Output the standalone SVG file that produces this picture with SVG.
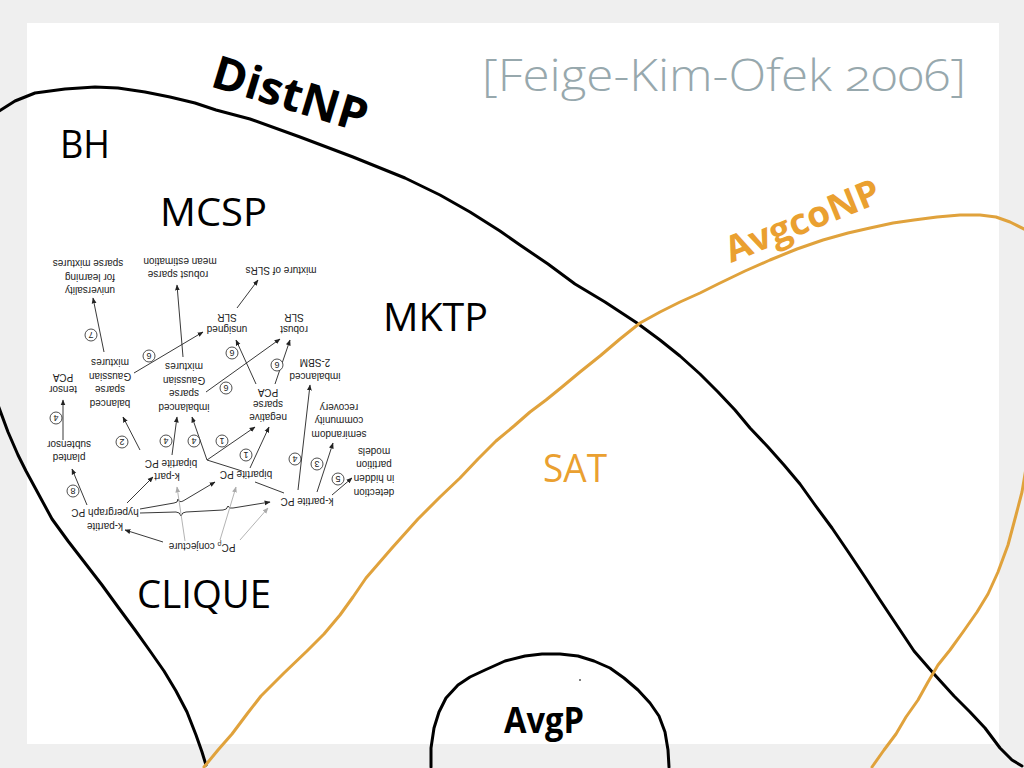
<svg xmlns="http://www.w3.org/2000/svg" width="1024" height="768" viewBox="0 0 1024 768">
<style>
.bg{fill:#efefef}
.panel{fill:#ffffff}
.blk{fill:none;stroke:#000;stroke-width:3;stroke-linecap:round;stroke-linejoin:round}
.org{fill:none;stroke:#e0a23c;stroke-width:3;stroke-linecap:round;stroke-linejoin:round}
.big{font-family:"Open Sans","Liberation Sans",sans-serif;font-size:39px;fill:#000}
.bold{font-family:"Open Sans","Liberation Sans",sans-serif;font-weight:700;fill:#000}
.otxt{fill:#eaa030}
.cite{font-family:"Open Sans","Liberation Sans",sans-serif;font-weight:300;font-size:44px;fill:#97a8ad;font-variant-numeric:oldstyle-nums}
.s{font-family:"Liberation Sans",Arial,sans-serif;font-size:10px;fill:#222;text-anchor:middle;dominant-baseline:central}
.n{font-family:"Liberation Sans",Arial,sans-serif;font-size:9px;fill:#222;text-anchor:middle;dominant-baseline:central}
.c{fill:#fff;stroke:#222;stroke-width:0.8}
.e{fill:none;stroke:#222;stroke-width:0.9;marker-end:url(#ah)}
.l{fill:none;stroke:#222;stroke-width:0.9}
.g{fill:none;stroke:#aaa;stroke-width:0.9;marker-end:url(#ag)}
</style>
<defs>
<marker id="ah" viewBox="0 0 10 10" refX="9" refY="5" markerWidth="6" markerHeight="6" orient="auto" markerUnits="userSpaceOnUse"><path d="M0,1 L10,5 L0,9 z" fill="#222"/></marker>
<marker id="ag" viewBox="0 0 10 10" refX="9" refY="5" markerWidth="6" markerHeight="6" orient="auto" markerUnits="userSpaceOnUse"><path d="M0,1 L10,5 L0,9 z" fill="#aaa"/></marker>
</defs>
<rect class="bg" x="0" y="0" width="1024" height="768"/>
<rect class="panel" x="27" y="23" width="972" height="721"/>

<g id="citation"><text class="cite" x="482" y="91" textLength="484" lengthAdjust="spacingAndGlyphs">[Feige-Kim-Ofek 2006]</text></g>

<g id="curves">
<path id="distnp-boundary" class="blk" d="M-4,113 L15,101 L35,93 L65,89 L95,87 L118,88 L145,92 L170,97 L195,103 L216,110 L250,119 L300,137 L353,157 L405,178 L440,195 L470,212 L500,231 L520,245 L548,264 L575,284 L605,302 L637,323 L660,340 L680,356 L700,374 L718,392 L735,410 L750,428 L768,447 L784,465 L800,484 L815,505 L832,528 L849,553 L865,577 L880,600 L898,627 L914,651 L934,674 L954,696 L970,712 L985,728 L1000,748 L1012,760 L1022,766"/>
<path id="distnp-left" class="blk" d="M-2,405 L8,432 L18,455 L26,471 L39,495 L52,519 L68,541 L85,563 L102,585 L118,607 L135,630 L150,651 L164,671 L176,691 L187,712 L196,735 L202,752 L206,765"/>
<path id="avgconp" class="org" d="M204,767 L218,750 L232,734 L247,714 L261,696 L284,673 L307,651 L324,634 L340,615 L353,597 L366,578 L392,548 L418,519 L440,497 L460,478 L478,459 L496,441 L514,426 L530,412 L546,400 L562,387 L580,372 L600,356 L620,339 L640,323 L660,312 L680,302 L700,293 L718,284 L745,271 L770,260 L797,249 L823,240 L848,233 L870,228 L893,223 L914,220 L937,217 L960,215 L980,215 L996,217 L1010,222 L1026,230"/>
<path id="avgconp-right" class="org" d="M1026,468 L1022,492 L1016,515 L1008,545 L998,572 L988,594 L977,612 L963,632 L950,650 L938,665 L928,682 L918,700 L906,717 L896,734 L884,750 L872,767"/>
<path id="avgp" class="blk" d="M431,767 L431,748 L434,728 L439,712 L446,698 L458,685 L470,677 L485,670 L505,661 L525,656 L542,654 L560,654 L578,656 L594,661 L610,668 L624,678 L638,690 L650,703 L659,716 L665,732 L668,750 L669,767"/>
<circle cx="580" cy="680" r="1" fill="#555"/>
</g>

<g id="labels">
<text class="bold" font-size="46" transform="translate(209,86) rotate(17)" textLength="160" lengthAdjust="spacingAndGlyphs">DistNP</text>
<text class="big" x="60" y="158" textLength="50" lengthAdjust="spacingAndGlyphs">BH</text>
<text class="big" x="160" y="226" textLength="107" lengthAdjust="spacingAndGlyphs">MCSP</text>
<text class="big" x="383" y="331" textLength="105" lengthAdjust="spacingAndGlyphs">MKTP</text>
<text class="big" x="137" y="608" textLength="134" lengthAdjust="spacingAndGlyphs">CLIQUE</text>
<text class="big otxt" x="543" y="482" textLength="64" lengthAdjust="spacingAndGlyphs">SAT</text>
<text class="bold otxt" font-size="36" transform="translate(731,263) rotate(-22)" textLength="164" lengthAdjust="spacingAndGlyphs">AvgcoNP</text>
<text class="bold" font-size="35" x="504" y="733" textLength="80" lengthAdjust="spacingAndGlyphs">AvgP</text>
</g>

<g id="reduction-figure">
<g id="connectors">
<path class="e" d="M104,352 L93,298"/>
<path class="e" d="M183,357 L177,285"/>
<path class="e" d="M237,308 L258,280"/>
<path class="e" d="M134,373 L203,332"/>
<path class="e" d="M256,384 L236,340"/>
<path class="e" d="M206,392 L280,339"/>
<path class="e" d="M275,384 L290,340"/>
<path class="e" d="M298,490 L310,385"/>
<path class="e" d="M317,492 L333,443"/>
<path class="e" d="M332,495 L352,478"/>
<path class="e" d="M250,468 L269,427"/>
<path class="e" d="M207,460 L255,427"/>
<path class="e" d="M207,460 L192,417"/>
<path class="e" d="M172,455 L177,417"/>
<path class="e" d="M140,450 L123,417"/>
<path class="e" d="M63,440 L63,400"/>
<path class="e" d="M87,505 L72,469"/>
<path class="e" d="M127,503 L153,477"/>
<path class="e" d="M163,542 L125,530"/>
<path class="l" d="M207,460 L242,471"/>
<path class="l" d="M255,482 L284,493"/>
<path class="e" d="M140,509 L174,503 Q178,503 178,499 Q179,503 183,501 L215,482"/>
<path class="e" d="M140,513 L176,512 Q180,512 181,516 Q182,512 186,512 L223,510 Q227,510 228,506 Q229,509 233,508 L270,502"/>
<path class="g" d="M185,541 L177,487"/>
<path class="g" d="M220,540 L236,487"/>
<path class="g" d="M240,540 L268,508"/>
</g>
<g id="fig-labels">
<text class="s" x="90" y="290" transform="rotate(180 90 290)">universality</text>
<text class="s" x="90" y="277" transform="rotate(180 90 277)">for learning</text>
<text class="s" x="88" y="263" transform="rotate(180 88 263)">sparse mixtures</text>
<text class="s" x="178" y="274" transform="rotate(180 178 274)">robust sparse</text>
<text class="s" x="180" y="261" transform="rotate(180 180 261)">mean estimation</text>
<text class="s" x="281" y="270" transform="rotate(180 281 270)">mixture of SLRs</text>
<text class="s" x="227" y="329" transform="rotate(180 227 329)">unsigned</text>
<text class="s" x="227" y="317" transform="rotate(180 227 317)">SLR</text>
<text class="s" x="294" y="329" transform="rotate(180 294 329)">robust</text>
<text class="s" x="294" y="317" transform="rotate(180 294 317)">SLR</text>
<text class="s" x="315" y="376" transform="rotate(180 315 376)">imbalanced</text>
<text class="s" x="315" y="362" transform="rotate(180 315 362)">2-SBM</text>
<text class="s" x="110" y="403" transform="rotate(180 110 403)">balanced</text>
<text class="s" x="110" y="389" transform="rotate(180 110 389)">sparse</text>
<text class="s" x="110" y="376" transform="rotate(180 110 376)">Gaussian</text>
<text class="s" x="110" y="362" transform="rotate(180 110 362)">mixtures</text>
<text class="s" x="63" y="389" transform="rotate(180 63 389)">tensor</text>
<text class="s" x="63" y="377" transform="rotate(180 63 377)">PCA</text>
<text class="s" x="184" y="407" transform="rotate(180 184 407)">imbalanced</text>
<text class="s" x="184" y="393" transform="rotate(180 184 393)">sparse</text>
<text class="s" x="184" y="380" transform="rotate(180 184 380)">Gaussian</text>
<text class="s" x="184" y="366" transform="rotate(180 184 366)">mixtures</text>
<text class="s" x="268" y="417" transform="rotate(180 268 417)">negative</text>
<text class="s" x="268" y="404" transform="rotate(180 268 404)">sparse</text>
<text class="s" x="268" y="392" transform="rotate(180 268 392)">PCA</text>
<text class="s" x="339" y="434" transform="rotate(180 339 434)">semirandom</text>
<text class="s" x="339" y="420" transform="rotate(180 339 420)">community</text>
<text class="s" x="339" y="407" transform="rotate(180 339 407)">recovery</text>
<text class="s" x="69" y="457" transform="rotate(180 69 457)">planted</text>
<text class="s" x="69" y="444" transform="rotate(180 69 444)">subtensor</text>
<text class="s" x="374" y="492" transform="rotate(180 374 492)">detection</text>
<text class="s" x="374" y="478" transform="rotate(180 374 478)">in hidden</text>
<text class="s" x="374" y="464" transform="rotate(180 374 464)">partition</text>
<text class="s" x="374" y="451" transform="rotate(180 374 451)">models</text>
<text class="s" x="171" y="463" transform="rotate(180 171 463)">bipartite PC</text>
<text class="s" x="167" y="476" transform="rotate(180 167 476)">k-part</text>
<text class="s" x="246" y="474" transform="rotate(180 246 474)">bipartite PC</text>
<text class="s" x="307" y="501" transform="rotate(180 307 501)">k-partite PC</text>
<text class="s" x="105" y="526" transform="rotate(180 105 526)">k-partite</text>
<text class="s" x="105" y="512" transform="rotate(180 105 512)">hypergraph PC</text>
<text class="s" x="202" y="547" transform="rotate(180 202 547)">PC<tspan font-size="7" dy="2">ρ</tspan><tspan dy="-2"> conjecture</tspan></text>
</g>
<g id="fig-steps">
<circle class="c" cx="91" cy="335" r="6"/><text class="n" x="91" y="335" transform="rotate(180 91 335)">7</text>
<circle class="c" cx="149" cy="356" r="6"/><text class="n" x="149" y="356" transform="rotate(180 149 356)">6</text>
<circle class="c" cx="232" cy="353" r="6"/><text class="n" x="232" y="353" transform="rotate(180 232 353)">6</text>
<circle class="c" cx="277" cy="365" r="6"/><text class="n" x="277" y="365" transform="rotate(180 277 365)">6</text>
<circle class="c" cx="226" cy="388" r="6"/><text class="n" x="226" y="388" transform="rotate(180 226 388)">6</text>
<circle class="c" cx="56" cy="418" r="6"/><text class="n" x="56" y="418" transform="rotate(180 56 418)">4</text>
<circle class="c" cx="122" cy="442" r="6"/><text class="n" x="122" y="442" transform="rotate(180 122 442)">2</text>
<circle class="c" cx="166" cy="441" r="6"/><text class="n" x="166" y="441" transform="rotate(180 166 441)">4</text>
<circle class="c" cx="194" cy="441" r="6"/><text class="n" x="194" y="441" transform="rotate(180 194 441)">4</text>
<circle class="c" cx="222" cy="441" r="6"/><text class="n" x="222" y="441" transform="rotate(180 222 441)">1</text>
<circle class="c" cx="246" cy="455" r="6"/><text class="n" x="246" y="455" transform="rotate(180 246 455)">1</text>
<circle class="c" cx="295" cy="459" r="6"/><text class="n" x="295" y="459" transform="rotate(180 295 459)">4</text>
<circle class="c" cx="317" cy="464" r="6"/><text class="n" x="317" y="464" transform="rotate(180 317 464)">3</text>
<circle class="c" cx="338" cy="479" r="6"/><text class="n" x="338" y="479" transform="rotate(180 338 479)">5</text>
<circle class="c" cx="73" cy="491" r="6"/><text class="n" x="73" y="491" transform="rotate(180 73 491)">8</text>
</g>
</g>
</svg>
